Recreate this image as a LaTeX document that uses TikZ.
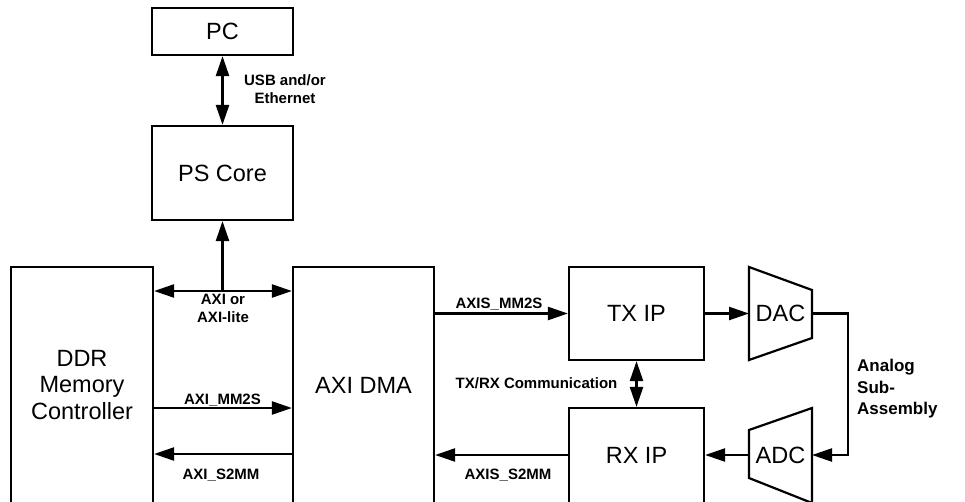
\documentclass[tikz,border=0pt]{standalone}
\usepackage{fontspec}
\setmainfont{Liberation Sans}
\usetikzlibrary{arrows.meta}
\begin{document}
\begin{tikzpicture}[x=1pt,y=-1pt,
  box/.style={draw, line width=2.2pt, inner sep=0pt, align=center, font=\fontsize{23.5}{26.5}\selectfont},
  plain/.style={inner sep=0pt, font=\fontsize{23.5}{26.5}\selectfont},
  lbl/.style={font=\bfseries\fontsize{15}{17.5}\selectfont, align=center, inner sep=0pt},
  tip/.tip={Triangle[length=20pt,width=13pt]},
  arr/.style={line width=2.4pt, -tip},
  darr/.style={line width=2.4pt, tip-tip},
  conv/.style={draw, line width=2.2pt, line join=miter}]
\useasboundingbox (0,0) rectangle (965,501);
% blocks
\node[box, minimum width=141pt, minimum height=47pt] (pc) at (222.5,31.5) {PC};
\node[box, minimum width=141pt, minimum height=94pt] (ps) at (222.5,173) {PS Core};
\node[box, minimum width=142pt, minimum height=236pt] (ddr) at (82,385) {DDR\\Memory\\Controller};
\node[box, minimum width=141pt, minimum height=236pt] (dma) at (363.5,385) {AXI DMA};
\node[box, minimum width=135pt, minimum height=93pt] (tx) at (636.5,313.5) {TX IP};
\node[box, minimum width=135pt, minimum height=95pt] (rx) at (636.5,455.5) {RX IP};
% converters
\draw[conv] (749,267) -- (812,290) -- (812,338) -- (749,360) -- cycle;
\node[plain] (dac) at (780.5,313.5) {DAC};
\draw[conv] (749,430) -- (812,408) -- (812,503) -- (749,478) -- cycle;
\node[plain] (adc) at (780.5,455) {ADC};
\coordinate (dacL) at (749,313.5);
\coordinate (dacR) at (812,313.5);
\coordinate (adcL) at (749,455);
\coordinate (adcR) at (812,455);
\coordinate (bend) at (848,313.5);
\coordinate (j) at (222.5,291);
% connectors
\draw[darr] (pc.south) -- (ps.north);
\draw[arr] (j) -- (ps.south);
\draw[darr] (ddr.east |- j) -- (dma.west |- j);
\draw[arr] (ddr.east |- 0,408) -- (dma.west |- 0,408);
\draw[arr] (dma.west |- 0,454) -- (ddr.east |- 0,454);
\draw[arr] (dma.east |- tx.west) -- (tx.west);
\draw[arr] (rx.west |- adcL) -- (dma.east |- adcL);
\draw[darr] (tx.south) -- (rx.north);
\draw[arr] (tx.east) -- (dacL);
\draw[arr] (dacR) -- (bend) |- (adcR);
\draw[arr] (adcL) -- (rx.east |- adcL);
% labels
\node[lbl] (usb) at (285,89) {USB and/or\\Ethernet};
\node[lbl] (axi) at (223,308.5) {AXI or\\AXI-lite};
\node[lbl] (mm2s) at (222.5,400) {AXI\_MM2S};
\node[lbl] (s2mm) at (221,475) {AXI\_S2MM};
\node[lbl] (amm2s) at (499,304) {AXIS\_MM2S};
\node[lbl] (as2mm) at (508,475) {AXIS\_S2MM};
\node[lbl] (txrx) at (536.5,383) {TX/RX Communication};
\node[lbl, align=left, anchor=west, font=\bfseries\fontsize{17}{21.5}\selectfont] (analog) at (857,389) {Analog\\Sub-\\Assembly};
\end{tikzpicture}
\end{document}
